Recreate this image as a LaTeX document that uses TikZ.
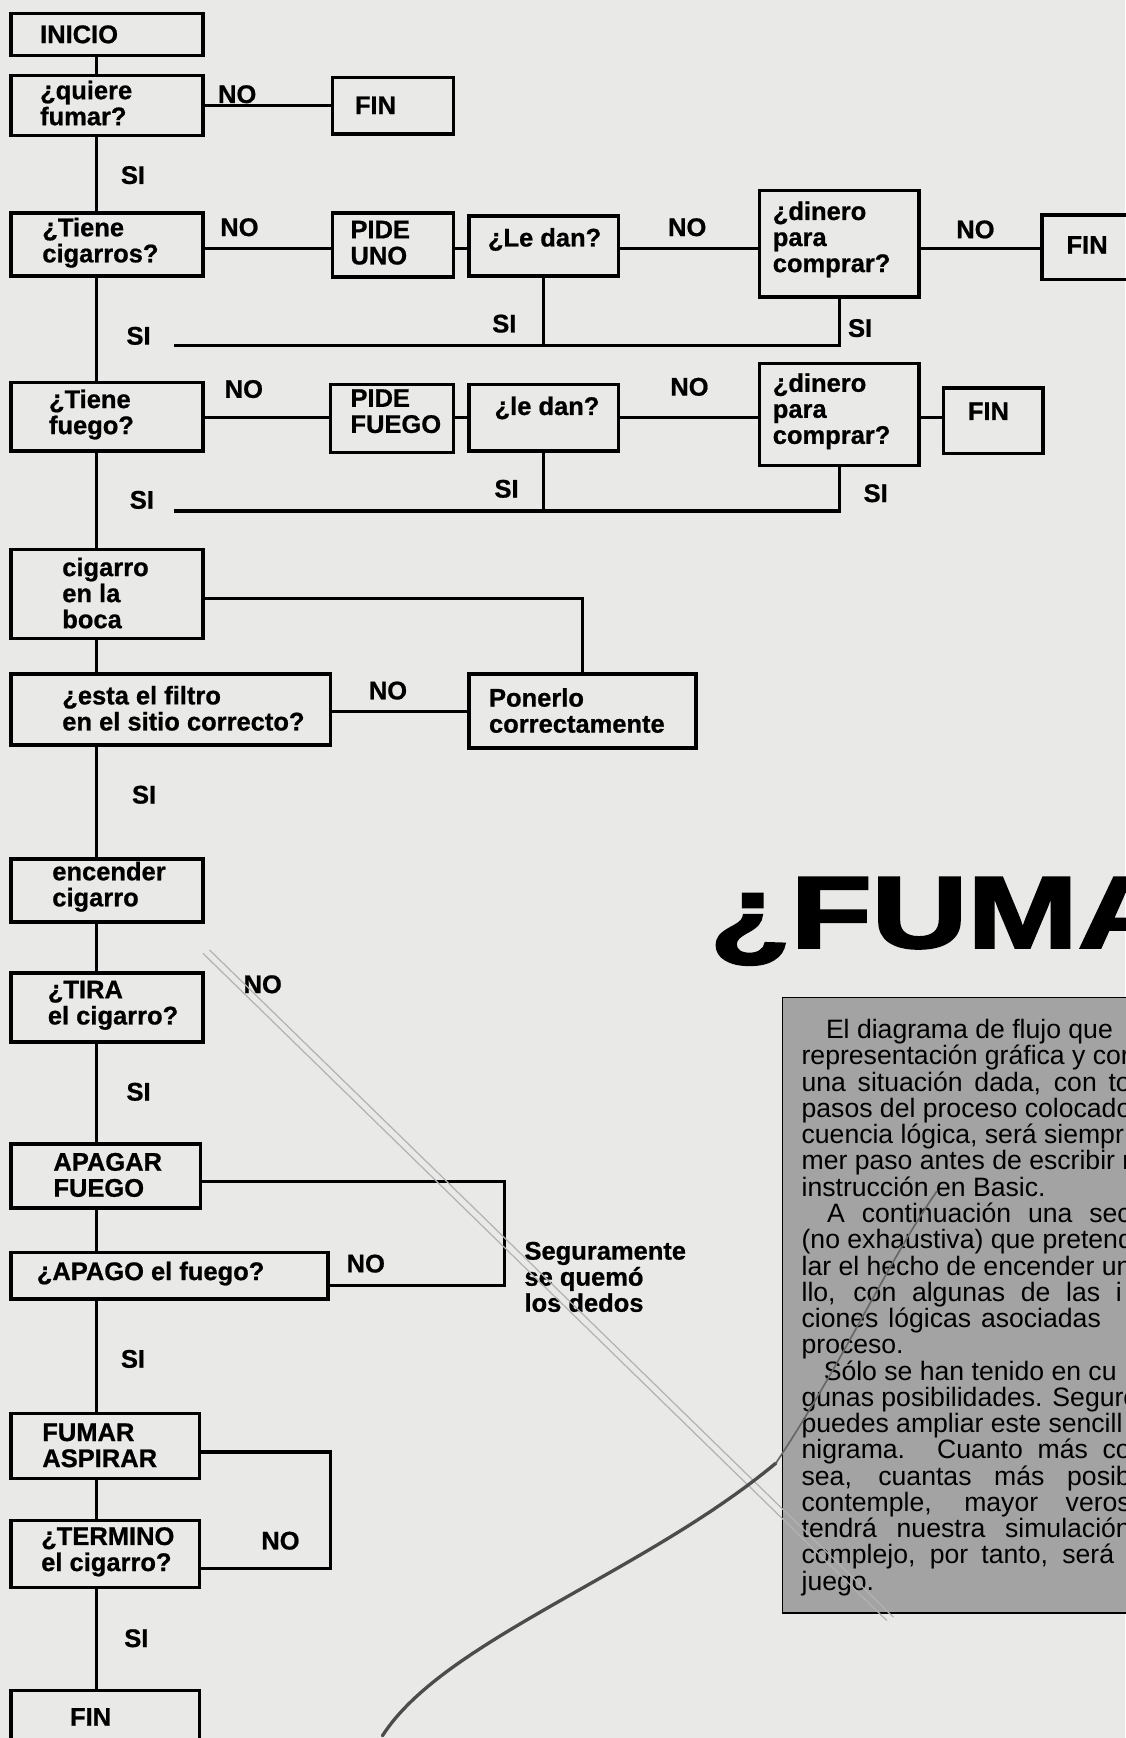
\documentclass[tikz,border=0pt]{standalone}
\usepackage{fontspec}
\setmainfont{Liberation Sans}
\newfontfamily\titlefont{Liberation Sans Bold}[FakeBold=2.2]
\newfontfamily\lblfont{Liberation Sans Bold}[FakeBold=0.8]
\newfontfamily\bodyfont{Liberation Sans}
\usetikzlibrary{calc}
\definecolor{paper}{RGB}{233,233,231}
\definecolor{boxgray}{RGB}{163,163,163}
\begin{document}
\begin{tikzpicture}[x=1pt,y=-1pt,
  box/.style={draw=black, line width=3.1pt, rectangle, inner sep=0pt, outer sep=0pt},
  lbl/.style={font=\lblfont\fontsize{23}{23.5}\selectfont, inner sep=0pt, align=left},
  con/.style={draw=black, line width=2.8pt},
  body/.style={font=\bodyfont\fontsize{24}{23.7}\selectfont, inner sep=0pt, anchor=base west},
  scribble/.style={draw=black!30, line width=1.1pt}]
\useasboundingbox (0,0) rectangle (1015,1568);
\fill[paper] (0,0) rectangle (1015,1568);

% ---- boxes ----
\node[box, minimum width=173pt, minimum height=38pt] (inicio) at (96.5,31) {};
\node[box, minimum width=173pt, minimum height=54pt] (quiere) at (96.5,95) {};
\node[box, minimum width=109pt, minimum height=51pt] (fin1) at (354.5,95.5) {};
\node[box, minimum width=173pt, minimum height=57pt] (tienec) at (96.5,220.5) {};
\node[box, minimum width=109pt, minimum height=58pt] (pideuno) at (354.5,221) {};
\node[box, minimum width=135pt, minimum height=54pt] (ledan1) at (490.5,222) {};
\node[box, minimum width=144pt, minimum height=96pt] (dinero1) at (757,220) {};
\node[box, minimum width=100pt, minimum height=58pt] (fin2) at (990,223) {};
\node[box, minimum width=173pt, minimum height=62pt] (tienef) at (96.5,376) {};
\node[box, minimum width=111pt, minimum height=61pt] (pidefuego) at (353.5,377.5) {};
\node[box, minimum width=135pt, minimum height=60pt] (ledan2) at (490.5,377) {};
\node[box, minimum width=144pt, minimum height=92pt] (dinero2) at (757,374) {};
\node[box, minimum width=90pt, minimum height=59pt] (fin3) at (896,379.5) {};
\node[box, minimum width=173pt, minimum height=80pt] (boca) at (96.5,536) {};
\node[box, minimum width=288pt, minimum height=64pt] (filtro) at (154,640) {};
\node[box, minimum width=205pt, minimum height=67pt] (poner) at (525.5,641.5) {};
\node[box, minimum width=173pt, minimum height=57pt] (encender) at (96.5,803.5) {};
\node[box, minimum width=173pt, minimum height=62pt] (tira) at (96.5,909) {};
\node[box, minimum width=171pt, minimum height=58pt] (apagar) at (95.5,1061) {};
\node[box, minimum width=286pt, minimum height=42pt] (apago) at (153,1151) {};
\node[box, minimum width=170pt, minimum height=59pt] (fumar) at (95,1304.5) {};
\node[box, minimum width=170pt, minimum height=60pt] (termino) at (95,1402) {};
\node[box, minimum width=170pt, minimum height=75pt] (fin4) at (95,1562.5) {};

% ---- box texts ----
\node[lbl, anchor=west] (tinicio) at (36,31) {INICIO};
\node[lbl, anchor=west] (tquiere) at (36,93) {¿quiere\\fumar?};
\node[lbl, anchor=west] (tfin1) at (320,95) {FIN};
\node[lbl, anchor=west] (ttienec) at (38,219) {¿Tiene\\cigarros?};
\node[lbl, anchor=west] (tpideuno) at (316,219) {PIDE\\UNO};
\node[lbl, anchor=west] (tledan1) at (440,216) {¿Le dan?};
\node[lbl, anchor=west] (tdinero1) at (697,216) {¿dinero\\para\\comprar?};
\node[lbl, anchor=west] (tfin2) at (962,221) {FIN};
\node[lbl, anchor=west] (ttienef) at (44,374) {¿Tiene\\fuego?};
\node[lbl, anchor=west] (tpidefuego) at (316,371) {PIDE\\FUEGO};
\node[lbl, anchor=west] (tledan2) at (446,368) {¿le dan?};
\node[lbl, anchor=west] (tdinero2) at (697,371) {¿dinero\\para\\comprar?};
\node[lbl, anchor=west] (tfin3) at (873,371) {FIN};
\node[lbl, anchor=west] (tboca) at (56,535) {cigarro\\en la\\boca};
\node[lbl, anchor=west] (tfiltro) at (56,639) {¿esta el filtro\\en el sitio correcto?};
\node[lbl, anchor=west] (tponer) at (441,641) {Ponerlo\\correctamente};
\node[lbl, anchor=west] (tencender) at (47,800) {encender\\cigarro};
\node[lbl, anchor=west] (ttira) at (43,907) {¿TIRA\\el cigarro?};
\node[lbl, anchor=west] (tapagar) at (48,1060) {APAGAR\\FUEGO};
\node[lbl, anchor=west] (tapago) at (33,1149) {¿APAGO el fuego?};
\node[lbl, anchor=west] (tfumar) at (38,1304) {FUMAR\\ASPIRAR};
\node[lbl, anchor=west] (ttermino) at (37,1400) {¿TERMINO\\el cigarro?};
\node[lbl, anchor=west] (tfin4) at (63,1549) {FIN};
\node[lbl, anchor=west] (tsegur) at (473,1152) {Seguramente\\se quemó\\los dedos};

% ---- NO / SI labels ----
\node[lbl] (no1) at (214,85) {NO};
\node[lbl] (no2) at (216,205) {NO};
\node[lbl] (no3) at (620,205) {NO};
\node[lbl] (no4) at (880,207) {NO};
\node[lbl] (no5) at (220,351) {NO};
\node[lbl] (no6) at (622,349) {NO};
\node[lbl] (no7) at (350,623) {NO};
\node[lbl] (no8) at (237,888) {NO};
\node[lbl] (no9) at (330,1140) {NO};
\node[lbl] (no10) at (253,1390) {NO};
\node[lbl] (si1) at (120,158) {SI};
\node[lbl] (si2) at (125,303) {SI};
\node[lbl] (si3) at (455,292) {SI};
\node[lbl] (si4) at (776,296) {SI};
\node[lbl] (si5) at (128,451) {SI};
\node[lbl] (si6) at (457,441) {SI};
\node[lbl] (si7) at (790,445) {SI};
\node[lbl] (si8) at (130,717) {SI};
\node[lbl] (si9) at (125,985) {SI};
\node[lbl] (si10) at (120,1226) {SI};
\node[lbl] (si11) at (123,1478) {SI};

% ---- helper coordinates ----
\coordinate (tr) at (87,0);
\coordinate (rA) at (0,224);
\coordinate (rB) at (0,377);
\coordinate (s1) at (157,312);
\coordinate (s2) at (157,461);
\coordinate (bc) at (0,540);
\coordinate (fl) at (0,642);
\coordinate (lp1) at (455,1066);
\coordinate (lp2) at (455,1160);
\coordinate (lp3) at (298,1310);
\coordinate (lp4) at (298,1415);

% ---- connectors ----
\draw[con] (inicio.south -| tr) -- (quiere.north -| tr);
\draw[con] (quiere.east |- fin1.west) -- (fin1.west);
\draw[con] (quiere.south -| tr) -- (tienec.north -| tr);
\draw[con] (tienec.east |- rA) -- (pideuno.west |- rA);
\draw[con] (pideuno.east |- rA) -- (ledan1.west |- rA);
\draw[con] (ledan1.east |- rA) -- (dinero1.west |- rA);
\draw[con] (dinero1.east |- rA) -- (fin2.west |- rA);
\draw[con] (ledan1.south) -- (ledan1.south |- s1);
\draw[con] (dinero1.south) |- (s1);
\draw[con] (tienec.south -| tr) -- (tienef.north -| tr);
\draw[con] (tienef.east |- rB) -- (pidefuego.west |- rB);
\draw[con] (pidefuego.east |- rB) -- (ledan2.west |- rB);
\draw[con] (ledan2.east |- rB) -- (dinero2.west |- rB);
\draw[con] (dinero2.east |- rB) -- (fin3.west |- rB);
\draw[con] (ledan2.south) -- (ledan2.south |- s2);
\draw[con] (dinero2.south) |- (s2);
\draw[con] (tienef.south -| tr) -- (boca.north -| tr);
\draw[con] (boca.east |- bc) -| (poner.north);
\draw[con] (boca.south -| tr) -- (filtro.north -| tr);
\draw[con] (filtro.east |- fl) -- (poner.west |- fl);
\draw[con] (filtro.south -| tr) -- (encender.north -| tr);
\draw[con] (encender.south -| tr) -- (tira.north -| tr);
\draw[con] (tira.south -| tr) -- (apagar.north -| tr);
\draw[con] (apagar.east |- lp1) -- (lp1) -- (lp2) -- (apago.east |- lp2);
\draw[con] (apagar.south -| tr) -- (apago.north -| tr);
\draw[con] (apago.south -| tr) -- (fumar.north -| tr);
\draw[con] (fumar.east |- lp3) -- (lp3) -- (lp4) -- (termino.east |- lp4);
\draw[con] (fumar.south -| tr) -- (termino.north -| tr);
\draw[con] (termino.south -| tr) -- (fin4.north -| tr);

% ---- title ----
\node[anchor=base west, inner sep=0pt, font=\titlefont\fontsize{92}{92}\selectfont, xscale=1.3] (title) at (640,855) {¿FUMA};

% ---- grey text panel ----
\draw[fill=boxgray, draw=black, line width=1.6pt] (706,900) rectangle (1040,1455);
\node[body] (t1) at (745,937) {El diagrama de flujo que};
\node[body] (t2) at (723,960.7) {representación gráfica y cor};
\node[body] (t3) at (723,984.4) {\makebox[297pt][s]{una situación dada, con to}};
\node[body] (t4) at (723,1008.1) {pasos del proceso colocado};
\node[body] (t5) at (723,1031.8) {cuencia lógica, será siempr};
\node[body] (t6) at (723,1055.5) {mer paso antes de escribir n};
\node[body] (t7) at (723,1079.2) {instrucción en Basic.};
\node[body] (t8) at (746,1102.9) {\makebox[274pt][s]{A continuación una sec}};
\node[body] (t9) at (723,1126.6) {(no exhaustiva) que pretend};
\node[body] (t10) at (723,1150.3) {lar el hecho de encender un};
\node[body] (t11) at (723,1174) {\makebox[289pt][s]{llo, con algunas de las i}};
\node[body] (t12) at (723,1197.7) {\makebox[270pt][s]{ciones lógicas asociadas}};
\node[body] (t13) at (723,1221.4) {proceso.};
\node[body] (t14) at (743,1245.1) {Sólo se han tenido en cu};
\node[body] (t15) at (723,1268.8) {gunas posibilidades. Seguro};
\node[body] (t16) at (723,1292.5) {puedes ampliar este sencill};
\node[body] (t17) at (723,1316.2) {\makebox[297pt][s]{nigrama. Cuanto más co}};
\node[body] (t18) at (723,1339.9) {\makebox[297pt][s]{sea, cuantas más posib}};
\node[body] (t19) at (723,1363.6) {\makebox[297pt][s]{contemple, mayor veros}};
\node[body] (t20) at (723,1387.3) {\makebox[297pt][s]{tendrá nuestra simulación}};
\node[body] (t21) at (723,1411) {\makebox[282pt][s]{complejo, por tanto, será}};
\node[body] (t22) at (723,1434.7) {juego.};

% ---- pencil marks on the page ----
\draw[scribble] (183,860) -- (800,1462);
\draw[scribble] (189,857) -- (806,1459);
\draw[draw=black!70, line width=3pt, line cap=round] (345,1566) .. controls (400,1480) and (580,1420) .. (700,1320);
\draw[draw=black!60, line width=1.5pt, line cap=round] (700,1320) .. controls (760,1230) and (800,1140) .. (845,1075);
\end{tikzpicture}
\end{document}
